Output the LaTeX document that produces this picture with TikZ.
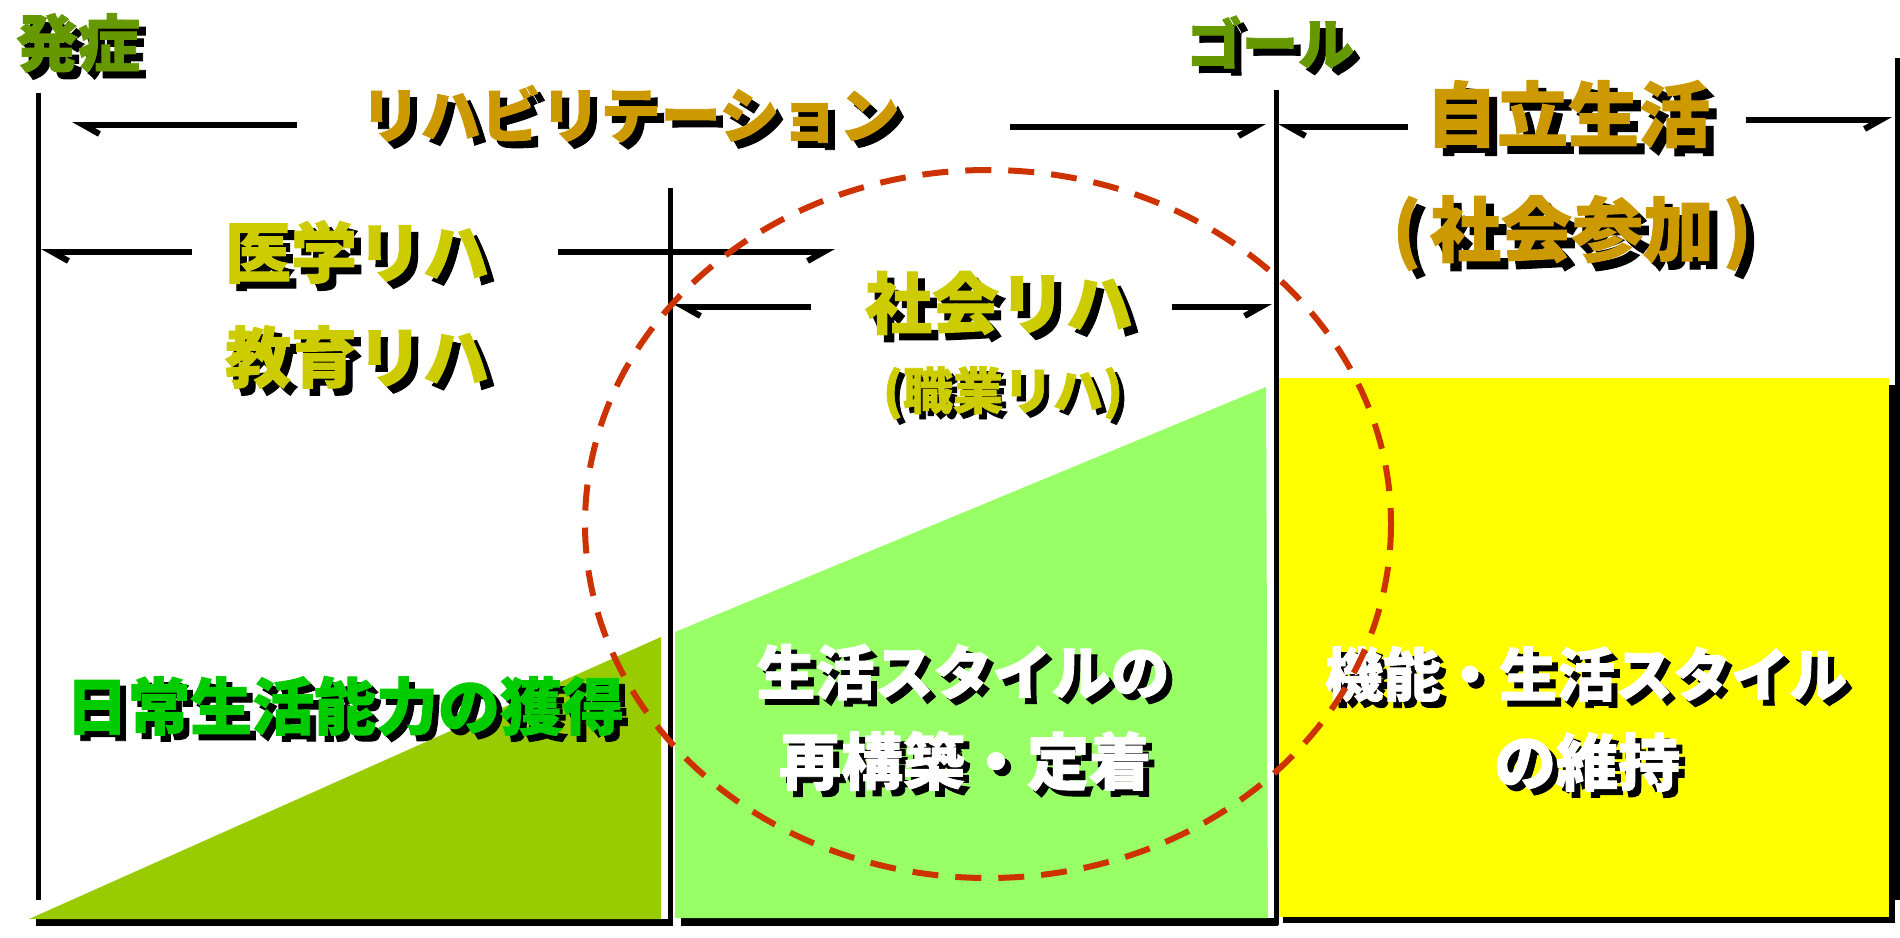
\documentclass[tikz,border=0pt]{standalone}
\usepackage{fontspec}
\newfontfamily\jp{Noto Sans CJK JP}[BoldFeatures={FakeBold=1.5}]
\usetikzlibrary{arrows.meta}
\definecolor{cOlive}{HTML}{669900}
\definecolor{cGold}{HTML}{CC9900}
\definecolor{cMustard}{HTML}{CCCC00}
\definecolor{cGreen}{HTML}{00CC00}
\definecolor{cTri}{HTML}{99CC00}
\definecolor{cLight}{HTML}{99FF66}
\definecolor{cYellow}{HTML}{FFFF00}
\definecolor{cRing}{HTML}{CC3300}
\newcommand\stxt[7]{% name, x, y, colour, size, shadow offset, text
  \node[stx,text=black,font=\jp\bfseries\fontsize{#5}{#5}\selectfont] (#1-sh) at ({#2+#6},{#3+#6}) {#7};
  \node[stx,text=#4,font=\jp\bfseries\fontsize{#5}{#5}\selectfont] (#1) at (#2,#3) {#7};}
\tikzset{
  vline/.style={line width=5pt},
  shadowbar/.style={fill=black, draw=none},
  harrL/.style={line width=6pt, -{Straight Barb[harpoon,length=16pt,width=18pt]}},
  harrR/.style={line width=6pt, -{Straight Barb[harpoon,swap,length=16pt,width=18pt]}},
  stx/.style={inner sep=0pt, outer sep=0pt},
  ring/.style={draw=cRing, line width=6pt, dash pattern=on 26pt off 17pt},
}
\begin{document}
\begin{tikzpicture}[x=1pt,y=-1pt]
\useasboundingbox[fill=white] (0,0) rectangle (1900,937);

% filled areas with black shadows
\fill[shadowbar] (36,919) rectangle (673,926);
\fill[cTri] (29,919) -- (661,637) -- (661,919) -- cycle;
\fill[shadowbar] (681,918) rectangle (1278,926);
\fill[cLight] (675,632) -- (1266,387) -- (1268,918) -- (675,918) -- cycle;
\fill[shadowbar] (1283,385) rectangle (1895,923);
\fill[cYellow] (1277,378) rectangle (1889,917);

% vertical lines
\coordinate (v1t) at (38,93);   \coordinate (v1b) at (38,900);
\coordinate (v2t) at (670,188); \coordinate (v2b) at (670,925);
\coordinate (v3t) at (1276,90); \coordinate (v3b) at (1276,925);
\coordinate (v4t) at (1897,58); \coordinate (v4b) at (1897,900);
\draw[vline] (v1t) -- (v1b);
\draw[vline] (v2t) -- (v2b);
\draw[vline] (v3t) -- (v3b);
\draw[vline] (v4t) -- (v4b);

% arrows
\coordinate (a1s) at (297,125);  \coordinate (a1e) at (72,125);
\coordinate (a2s) at (1010,127); \coordinate (a2e) at (1266,127);
\coordinate (a3s) at (1408,127); \coordinate (a3e) at (1278,127);
\coordinate (a4s) at (1746,120); \coordinate (a4e) at (1892,120);
\coordinate (a5s) at (192,252);  \coordinate (a5e) at (41,252);
\coordinate (a6s) at (558,252);  \coordinate (a6e) at (835,252);
\coordinate (a7s) at (811,307);  \coordinate (a7e) at (673,307);
\coordinate (a8s) at (1172,307); \coordinate (a8e) at (1272,307);
\draw[harrL] (a1s) -- (a1e);
\draw[harrR] (a2s) -- (a2e);
\draw[harrL] (a3s) -- (a3e);
\draw[harrR] (a4s) -- (a4e);
\draw[harrL] (a5s) -- (a5e);
\draw[harrR] (a6s) -- (a6e);
\draw[harrL] (a7s) -- (a7e);
\draw[harrR] (a8s) -- (a8e);

% texts
\stxt{onset}{78}{43}{cOlive}{62}{7}{発症}
\stxt{goal}{1270}{42}{cOlive}{56}{7}{ゴール}
\stxt{rehab}{630}{114}{cGold}{60}{7}{リハビリテーション}
\stxt{indep}{1568}{114}{cGold}{71}{8}{自立生活}
\stxt{partic}{1572}{233}{cGold}{71}{8}{(\kern9pt 社会参加\kern9pt)}
\stxt{medical}{357}{252}{cMustard}{66}{7}{医学リハ}
\stxt{educ}{357}{357}{cMustard}{66}{7}{教育リハ}
\stxt{social}{999}{303}{cMustard}{67}{7}{社会リハ}
\stxt{voc}{1003}{393}{cMustard}{50}{5}{(職業リハ)}
\stxt{adl}{345}{706}{cGreen}{62}{6}{日常生活能力の獲得}
\stxt{style1}{963}{672}{white}{59}{6}{生活スタイルの}
\stxt{style2}{965}{761}{white}{62}{6}{再構築・定着}
\stxt{keep1}{1586}{674}{white}{58}{6}{機能・生活スタイル}
\stxt{keep2}{1587}{762}{white}{62}{6}{の維持}

% dashed ring
\draw[ring] (988,524) ellipse [x radius=403, y radius=354];
\end{tikzpicture}
\end{document}
